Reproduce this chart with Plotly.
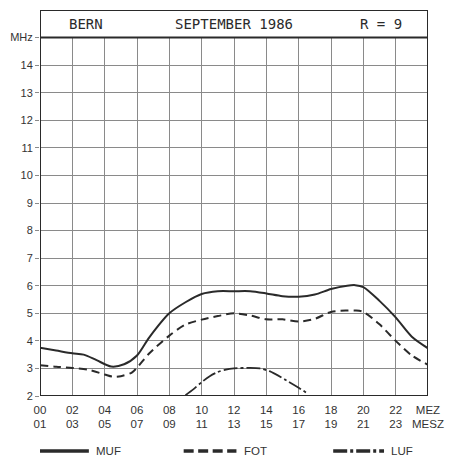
import plotly.graph_objects as go

# ---- data ----
muf_hours = [0, 1, 2, 2.7, 3.5, 4.4, 5.2, 6, 6.75, 8, 9, 10, 11, 12, 13, 14, 15, 16, 17, 18, 19, 19.5, 20, 21, 22, 23, 24]
muf_vals = [3.75, 3.65, 3.55, 3.5, 3.3, 3.07, 3.15, 3.47, 4.12, 5.0, 5.4, 5.7, 5.8, 5.8, 5.8, 5.72, 5.62, 5.6, 5.68, 5.88, 6.0, 6.02, 5.95, 5.45, 4.85, 4.15, 3.73]

fot_hours = [0, 1, 2, 3, 4, 4.5, 5, 5.7, 6.75, 8, 9, 10, 11, 12, 13, 14, 15, 16, 17, 18, 19, 19.5, 20, 21, 22, 23, 24]
fot_vals = [3.12, 3.06, 3.02, 2.95, 2.78, 2.7, 2.72, 2.86, 3.54, 4.19, 4.59, 4.77, 4.9, 5.0, 4.92, 4.78, 4.78, 4.7, 4.8, 5.05, 5.1, 5.1, 5.05, 4.6, 4.0, 3.47, 3.13]

luf_hours = [9.0, 9.5, 10, 10.5, 11, 11.5, 12, 13, 13.6, 14.2, 15.2, 16.0, 16.6]
luf_vals = [2.03, 2.25, 2.5, 2.72, 2.87, 2.96, 3.0, 3.02, 3.0, 2.9, 2.58, 2.3, 2.07]

x_tickvals = list(range(0, 25, 2))
x_ticktext = ["00<br>01", "02<br>03", "04<br>05", "06<br>07", "08<br>09", "10<br>11",
              "12<br>13", "14<br>15", "16<br>17", "18<br>19", "20<br>21", "22<br>23", "MEZ<br>MESZ"]
y_tickvals = list(range(2, 16))
y_ticktext = [str(v) for v in range(2, 15)] + ["MHz"]

title_items = ["BERN", "SEPTEMBER 1986", "R = 9"]
title_pos = [2.87, 12.0, 21.07]

legend_names = ["MUF", "FOT", "LUF"]

INK = "#2a2a2a"
GRID = "#8a8a8a"

W, H = 454, 457
W0, H0 = 438, 441
ML, MR, MT, MB = 38, 19, 10, 61
PW, PH = W - ML - MR, H - MT - MB

fig = go.Figure()
fig.add_trace(go.Scatter(x=muf_hours, y=muf_vals, mode="lines", name="MUF",
                         line=dict(color=INK, width=2, shape="spline", smoothing=0.8)))
fig.add_trace(go.Scatter(x=fot_hours, y=fot_vals, mode="lines", name="FOT",
                         line=dict(color=INK, width=2, shape="spline", smoothing=0.8, dash="8px,5px")))
fig.add_trace(go.Scatter(x=luf_hours, y=luf_vals, mode="lines", name="LUF",
                         line=dict(color=INK, width=1.8, shape="spline", smoothing=0.8, dash="14px,3px,3px,3px")))

fig.update_layout(
    width=W0, height=H0,
    margin=dict(l=ML, r=MR, t=MT, b=MB, pad=0),
    paper_bgcolor="white", plot_bgcolor="white",
    showlegend=False,
    font=dict(family="Liberation Sans, Arial, sans-serif", color="#333", size=11),
)
fig.update_xaxes(range=[0, 24], tickvals=x_tickvals, ticktext=x_ticktext,
                 showgrid=True, gridcolor=GRID, gridwidth=1, zeroline=False,
                 ticks="", showline=False, tickfont=dict(size=11.5, color="#333"),
                 tickangle=0, ticklabelstandoff=5, ticklabeloverflow="allow")
fig.update_yaxes(range=[2, 16], tickvals=y_tickvals, ticktext=y_ticktext,
                 showgrid=True, gridcolor=GRID, gridwidth=1, zeroline=False,
                 ticks="outside", ticklen=4, tickcolor=GRID, showline=False,
                 tickfont=dict(size=11, color="#333"))

# title box (white, covers grid) and frame
fig.add_shape(type="rect", xref="x", yref="y", x0=0, x1=24, y0=15, y1=16,
              fillcolor="white", line=dict(color=INK, width=2), layer="above")
fig.add_shape(type="rect", xref="x", yref="y", x0=0, x1=24, y0=2, y1=16,
              fillcolor="rgba(0,0,0,0)", line=dict(color=INK, width=2), layer="above")

for txt, xp in zip(title_items, title_pos):
    fig.add_annotation(x=xp, y=15.5, xref="x", yref="y", text=txt, showarrow=False,
                       font=dict(family="DejaVu Sans Mono, monospace", size=14, color=INK))

# custom legend, placed in x-axis units below the plot
def hx(p):
    # window pixel -> hour units on the x axis (plot spans 38..435)
    return (p - ML) / float(PW) * 24

ly = -(451 - (MT + PH)) / float(PH)
for (x0p, x1p, dash) in [(32, 88, None), (185, 239, "10px,4.5px"), (338, 390, "14px,3px,3px,3px")]:
    fig.add_shape(type="line", xref="x", yref="paper", x0=hx(x0p), x1=hx(x1p), y0=ly, y1=ly,
                  line=dict(color=INK, width=3.5, dash=dash))
for name, xp in zip(legend_names, [93, 245, 395]):
    fig.add_annotation(x=hx(xp), y=ly, xref="x", yref="paper", text=name, showarrow=False,
                       xanchor="left", yanchor="middle",
                       font=dict(family="Liberation Sans, Arial, sans-serif", size=11.5, color="#333"))

post = (
    "document.body.style.margin='0';"
    "document.body.style.overflow='hidden';"
    "var gd=document.getElementById('{plot_id}');"
    "gd.style.width='%dpx';gd.style.height='%dpx';"
    "Plotly.relayout(gd,{width:%d,height:%d});" % (W, H, W, H)
)
fig.write_html("out.html", post_script=post,
               config={"displayModeBar": False, "responsive": False})
